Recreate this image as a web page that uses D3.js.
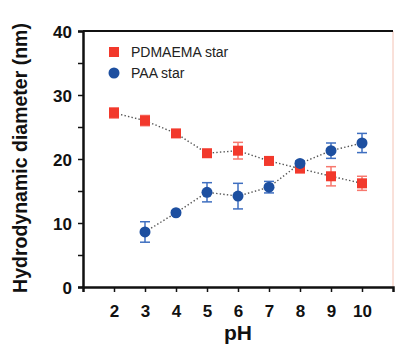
<!DOCTYPE html>
<html>
<head>
<meta charset="utf-8">
<script src="https://cdn.jsdelivr.net/npm/d3@7"></script>
<style>
  body { margin: 0; background: #fff; }
  text { font-family: "Liberation Sans", Arial, sans-serif; }
</style>
</head>
<body>
<div id="chart"></div>
<script>
// Data
const ph = [2, 3, 4, 5, 6, 7, 8, 9, 10];
const pdmaema = [27.2, 26.0, 24.0, 20.9, 21.3, 19.7, 18.5, 17.3, 16.2];
const pdmaemaErr = [0.8, 0.8, 0.5, 0.3, 1.3, 0.6, 0.4, 1.5, 1.1];
const paaPh = [3, 4, 5, 6, 7, 8, 9, 10];
const paa = [8.6, 11.6, 14.8, 14.2, 15.6, 19.3, 21.3, 22.5];
const paaErr = [1.6, 0.3, 1.5, 2.0, 0.9, 0.4, 1.2, 1.5];
const yTicks = [0, 10, 20, 30, 40];
const yMinor = [5, 15, 25, 35];

const width = 397, height = 347;
const margin = { top: 31, right: 4, bottom: 60, left: 83 };
const plotW = width - margin.left - margin.right;
const plotH = height - margin.top - margin.bottom;

const red = '#f2392c', redLight = '#f7786e';
const blue = '#1d4fa0', blueLight = '#3f6fc0';

const svg = d3.select('#chart').append('svg')
  .attr('width', width)
  .attr('height', height);

const plot = svg.append('g')
  .attr('transform', `translate(${margin.left}, ${margin.top})`);

const x = d3.scaleLinear().domain([1, 11]).range([0, plotW]);
const y = d3.scaleLinear().domain([0, 40]).range([plotH, 0]);

// frame: right thin border, top thick line
plot.append('line')
  .attr('x1', plotW).attr('x2', plotW).attr('y1', 0).attr('y2', plotH)
  .style('stroke', '#f4c2b4').style('stroke-width', 1);
plot.append('line')
  .attr('x1', 0).attr('x2', plotW).attr('y1', 0).attr('y2', 0)
  .style('stroke', '#111').style('stroke-width', 2);

// axes
const xAxis = plot.append('g')
  .attr('transform', `translate(0, ${plotH})`)
  .call(d3.axisBottom(x).tickValues(ph).tickFormat(d3.format('d')).tickSize(5).tickPadding(13));
const yAxis = plot.append('g')
  .call(d3.axisLeft(y).tickValues(yTicks).tickSize(5).tickPadding(6));
plot.append('g')
  .call(d3.axisLeft(y).tickValues(yMinor).tickSize(5).tickFormat(''))
  .select('.domain').remove();

plot.selectAll('.domain').style('stroke', '#111').style('stroke-width', 2.5);
plot.selectAll('.tick line').style('stroke', '#111').style('stroke-width', 1.5);
xAxis.selectAll('text').style('font-size', '17px').style('font-weight', 'bold').attr('fill', '#111');
yAxis.selectAll('text').style('font-size', '17px').style('font-weight', 'bold').attr('fill', '#111')
  .attr('dy', '0.36em');

// axis titles
svg.append('text')
  .attr('x', margin.left + x(6))
  .attr('y', 340)
  .attr('text-anchor', 'middle')
  .style('font-size', '21px').style('font-weight', 'bold').attr('fill', '#111')
  .text('pH');
svg.append('text')
  .attr('transform', `translate(27, 158) rotate(-90)`)
  .attr('text-anchor', 'middle')
  .style('font-size', '19.5px').style('font-weight', 'bold').attr('fill', '#111')
  .text('Hydrodynamic diameter (nm)');

// series
const redData = ph.map((p, i) => ({ x: p, y: pdmaema[i], e: pdmaemaErr[i] }));
const blueData = paaPh.map((p, i) => ({ x: p, y: paa[i], e: paaErr[i] }));

const line = d3.line().x(d => x(d.x)).y(d => y(d.y));

[redData, blueData].forEach(data => {
  plot.append('path')
    .attr('d', line(data))
    .style('fill', 'none')
    .style('stroke', '#555')
    .style('stroke-width', 1.4)
    .style('stroke-dasharray', '1.4,2.2');
});

function errorBars(data, color) {
  const g = plot.append('g');
  const bars = g.selectAll('g').data(data).enter().append('g');
  bars.append('line')
    .attr('x1', d => x(d.x)).attr('x2', d => x(d.x))
    .attr('y1', d => y(d.y - d.e)).attr('y2', d => y(d.y + d.e));
  bars.append('line')
    .attr('x1', d => x(d.x) - 5).attr('x2', d => x(d.x) + 5)
    .attr('y1', d => y(d.y + d.e)).attr('y2', d => y(d.y + d.e));
  bars.append('line')
    .attr('x1', d => x(d.x) - 5).attr('x2', d => x(d.x) + 5)
    .attr('y1', d => y(d.y - d.e)).attr('y2', d => y(d.y - d.e));
  bars.selectAll('line').style('stroke', color).style('stroke-width', 1.5);
}

errorBars(redData, redLight);
errorBars(blueData, blueLight);

plot.selectAll('.sq').data(redData).enter().append('rect')
  .attr('class', 'sq')
  .attr('x', d => x(d.x) - 5).attr('y', d => y(d.y) - 5)
  .attr('width', 10).attr('height', 10)
  .style('fill', red);

plot.selectAll('.dot').data(blueData).enter().append('circle')
  .attr('class', 'dot')
  .attr('cx', d => x(d.x)).attr('cy', d => y(d.y))
  .attr('r', 5.5)
  .style('fill', blue);

// legend
const legend = plot.append('g').attr('transform', `translate(${x(2)}, 21)`);
legend.append('rect').attr('x', -5).attr('y', -5).attr('width', 10).attr('height', 10).style('fill', red);
legend.append('text').attr('x', 17).attr('y', 0).attr('dy', '0.35em')
  .style('font-size', '14px').attr('fill', '#222').text('PDMAEMA star');
legend.append('circle').attr('cx', 0).attr('cy', 21).attr('r', 5.5).style('fill', blue);
legend.append('text').attr('x', 17).attr('y', 21).attr('dy', '0.35em')
  .style('font-size', '14px').attr('fill', '#222').text('PAA star');
</script>
</body>
</html>
